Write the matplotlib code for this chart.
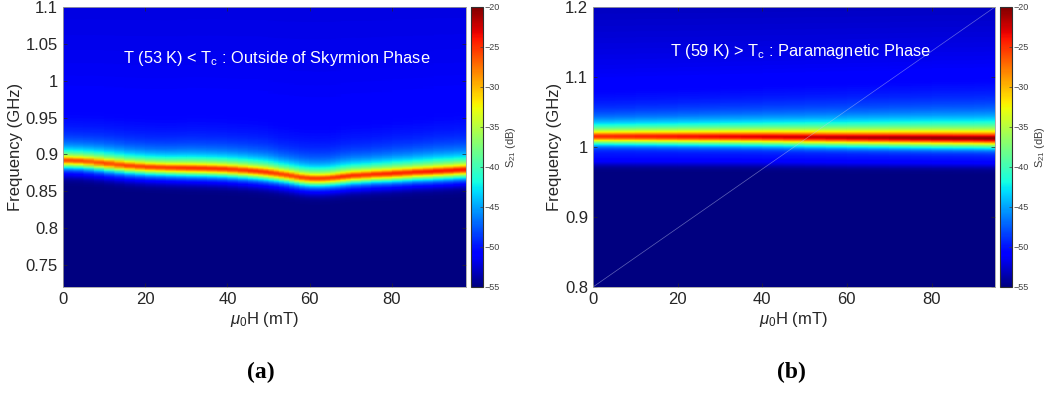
import numpy as np
import matplotlib
matplotlib.use("Agg")
import matplotlib.pyplot as plt

plt.rcParams['font.family'] = ['Liberation Sans', 'DejaVu Sans']
plt.rcParams['mathtext.fontset'] = 'custom'
plt.rcParams['mathtext.rm'] = 'Liberation Sans'
plt.rcParams['mathtext.it'] = 'Liberation Sans:italic'

# panel (a): 53 K, resonance position and peak level
H_a = [0, 5, 10, 15, 20, 25, 30, 35, 40, 45, 47.5, 50, 52.5, 55, 57.5, 60, 62.5, 65,
       67.5, 70, 75, 80, 85, 90, 95, 98]
f0_a = [0.893, 0.892, 0.889, 0.886, 0.884, 0.883, 0.8825, 0.882, 0.881, 0.879, 0.878,
        0.8765, 0.8745, 0.8725, 0.870, 0.8685, 0.8683, 0.869, 0.8705, 0.872, 0.8737,
        0.875, 0.8767, 0.878, 0.8795, 0.8805]
peak_a = [-26, -26, -25.5, -25.5, -25.5, -25.5, -25, -25, -25, -25, -25, -25, -25.5,
          -25.5, -25.5, -25.5, -25.5, -25.5, -25, -25, -25, -24.5, -24.5, -24, -24, -24]

# panel (b): 59 K
H_b = [0, 10, 20, 30, 40, 50, 60, 70, 80, 90, 95]
f0_b = [1.016, 1.016, 1.0158, 1.0157, 1.0155, 1.015, 1.0145, 1.0142, 1.0138, 1.0135, 1.0133]
peak_b = [-25, -24.5, -24, -23.5, -23, -22.5, -22, -21.5, -21, -20.8, -20.5]

cbar_ticks = [-20, -25, -30, -35, -40, -45, -50, -55]


def s21_map(H, f0, peak, f, up, down, bg_near, bg_far, cut):
    # resonance line on top of a background, summed in linear power
    f0 = np.asarray(f0)[None, :]
    pk = np.asarray(peak)[None, :]
    d = f[:, None] - f0
    g = np.where(d > 0, up[0], down[0])
    n = np.where(d > 0, up[1], down[1])
    line = pk - 10 * n * np.log10(1 + (d / g) ** 2)
    bg_hi = bg_near + (bg_far - bg_near) * np.clip(d, 0, None) / (f.max() - f0)
    step = 1 / (1 + np.exp(-(d - cut) / 0.003))
    bg = -55 + (bg_hi + 55) * step
    p = 10 ** (bg / 10) + 10 ** (line / 10)
    return 10 * np.log10(p)


fig = plt.figure(figsize=(10.51, 3.94), dpi=100)

panels = [
    dict(H=H_a, f0=f0_a, pk=peak_a, ylim=(0.72, 1.1), xlim=(0, 98),
         yticks=[0.75, 0.8, 0.85, 0.9, 0.95, 1, 1.05, 1.1],
         yticklabels=['0.75', '0.8', '0.85', '0.9', '0.95', '1', '1.05', '1.1'],
         up=(0.003, 1.25), down=(0.006, 2.9), bg_near=-50.8, bg_far=-52.0, cut=-0.022,
         text=r'T (53 K) < T$_\mathrm{c}$ : Outside of Skyrmion Phase', tx=0.53, ty=0.815,
         pos=[0.0599, 0.2716, 0.3835, 0.7107], cpos=[0.4481, 0.2716, 0.0119, 0.7107],
         tag='(a)', tagx=0.248),
    dict(H=H_b, f0=f0_b, pk=peak_b, ylim=(0.8, 1.2), xlim=(0, 95),
         yticks=[0.8, 0.9, 1.0, 1.1, 1.2],
         yticklabels=['0.8', '0.9', '1', '1.1', '1.2'],
         up=(0.004, 1.4), down=(0.0065, 2.9), bg_near=-50.3, bg_far=-53.0, cut=-0.04,
         text=r'T (59 K) > T$_\mathrm{c}$ : Paramagnetic Phase', tx=0.515, ty=0.84,
         pos=[0.5642, 0.2716, 0.3825, 0.7107], cpos=[0.9515, 0.2716, 0.0114, 0.7107],
         tag='(b)', tagx=0.753),
]

for p in panels:
    ax = fig.add_axes(p['pos'])
    f = np.linspace(p['ylim'][0], p['ylim'][1], 800)
    Z = s21_map(p['H'], p['f0'], p['pk'], f, p['up'], p['down'],
                p['bg_near'], p['bg_far'], p['cut'])
    mesh = ax.pcolormesh(p['H'], f, Z, shading='gouraud', cmap='jet', vmin=-55, vmax=-20,
                         rasterized=True)
    ax.set_xlim(p['xlim'])
    ax.set_ylim(p['ylim'])
    ax.set_xticks([0, 20, 40, 60, 80])
    ax.set_yticks(p['yticks'])
    ax.set_yticklabels(p['yticklabels'])
    ax.tick_params(direction='in', labelsize=12, length=3, width=0.5,
                   colors='#262626', top=True, right=True)
    for s in ax.spines.values():
        s.set_color('#a0a0a0')
        s.set_linewidth(0.6)
    ax.set_xlabel(r'$\mu_\mathrm{0}$H (mT)', fontsize=12, color='#262626', labelpad=2)
    ax.set_ylabel('Frequency (GHz)', fontsize=12, color='#262626', labelpad=2)
    ax.text(p['tx'], p['ty'], p['text'], transform=ax.transAxes, color='white',
            fontsize=11.8, ha='center', va='center')
    if p['tag'] == '(b)':
        ax.plot([0, 1], [0, 1], transform=ax.transAxes, color='#c0c8f0', lw=0.5, alpha=0.5)

    cax = fig.add_axes(p['cpos'])
    cb = fig.colorbar(mesh, cax=cax, ticks=cbar_ticks)
    cb.ax.tick_params(direction='in', labelsize=6.5, length=2, width=0.5, colors='#404040', pad=1)
    cb.outline.set_linewidth(0.8)
    cb.outline.set_edgecolor('#303030')
    cb.set_label(r'S$_\mathrm{21}$ (dB)', fontsize=8, color='#404040', labelpad=3)

    fig.text(p['tagx'], 0.055, p['tag'], ha='center', va='center', fontsize=17,
             fontweight='bold', family='Liberation Serif')

fig.savefig('out.png', dpi=100)
